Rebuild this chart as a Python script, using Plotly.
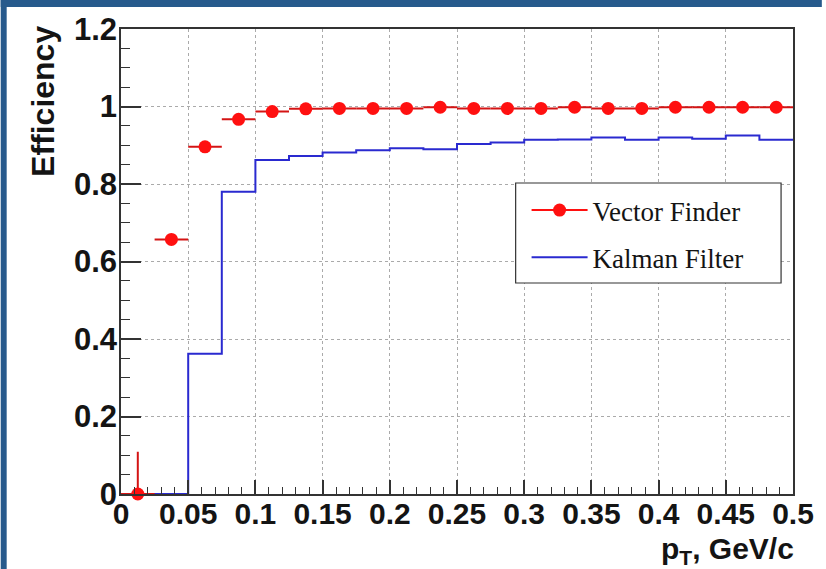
import numpy as np
import plotly.graph_objects as go

# pT binning (GeV/c): 20 bins of width 0.025 from 0 to 0.5
bin_edges = [round(0.025 * i, 4) for i in range(21)]
bin_centers = [round((a + b) / 2, 5) for a, b in zip(bin_edges[:-1], bin_edges[1:])]
bin_half_width = [0.0125] * 20

# Vector Finder efficiency per bin (points with errors)
vf_eff = [0.0, 0.657, 0.896, 0.967, 0.987, 0.994, 0.995, 0.995, 0.995, 0.998,
          0.995, 0.995, 0.995, 0.998, 0.995, 0.995, 0.998, 0.998, 0.998, 0.998]
vf_err_up = [0.109] + [0.0] * 19
vf_err_down = [0.0] * 20

# Kalman Filter efficiency per bin (histogram)
kf_eff = [0.0, 0.0, 0.362, 0.780, 0.862, 0.872, 0.881, 0.887, 0.892, 0.890,
          0.903, 0.907, 0.914, 0.915, 0.920, 0.914, 0.920, 0.917, 0.925, 0.914]

x_tickvals = [0, 0.05, 0.1, 0.15, 0.2, 0.25, 0.3, 0.35, 0.4, 0.45, 0.5]
x_ticktext = ["0", "0.05", "0.1", "0.15", "0.2", "0.25", "0.3", "0.35", "0.4", "0.45", "0.5"]
y_tickvals = [0, 0.2, 0.4, 0.6, 0.8, 1.0, 1.2]
y_ticktext = ["0", "0.2", "0.4", "0.6", "0.8", "1", "1.2"]

W, H = 826, 569
L, R, T, B = 121, 29, 29, 75
pw, ph = W - L - R, H - T - B

def px_x(px):
    return (px - L) / pw

def px_y(py):
    return (H - B - py) / ph

SANS = "Liberation Sans, Arial, Helvetica, sans-serif"
SERIF = "Liberation Serif, Times New Roman, serif"
FRAME_BLUE = "#275a8c"
RED = "#ff1010"
BLUE = "#2a2ad0"
INK = "#141414"

fig = go.Figure()

# Kalman Filter as a step histogram
fig.add_trace(go.Scatter(
    x=bin_edges,
    y=kf_eff + [kf_eff[-1]],
    mode="lines",
    line=dict(color=BLUE, width=2, shape="hv"),
    name="Kalman Filter",
    legendgroup="kf",
    legendrank=2,
))

# Vector Finder as markers with bin-width x errors
fig.add_trace(go.Scatter(
    x=bin_centers,
    y=vf_eff,
    mode="markers",
    marker=dict(color=RED, size=13, symbol="circle"),
    error_x=dict(type="data", array=bin_half_width, color="#d41414", thickness=2, width=0),
    error_y=dict(type="data", array=vf_err_up, arrayminus=vf_err_down,
                 color="#d41414", thickness=2, width=0),
    cliponaxis=False,
    name="Vector Finder",
    legendgroup="vf",
    legendrank=1,
    showlegend=False,
))
# legend sample for Vector Finder (line + marker)
fig.add_trace(go.Scatter(
    x=[None], y=[None],
    mode="lines+markers",
    line=dict(color=RED, width=2),
    marker=dict(color=RED, size=13),
    name="Vector Finder",
    legendgroup="vf",
    legendrank=1,
))

shapes = [
    # legend box
    dict(type="rect", xref="paper", yref="paper",
         x0=px_x(518), x1=px_x(785), y0=px_y(283), y1=px_y(183),
         line=dict(color="#333333", width=1.2), fillcolor="white", layer="above"),
    # page frame bands
    dict(type="rect", xref="paper", yref="paper",
         x0=px_x(0), x1=px_x(6), y0=px_y(H), y1=px_y(0),
         line=dict(width=0), fillcolor=FRAME_BLUE, layer="above"),
    dict(type="rect", xref="paper", yref="paper",
         x0=px_x(0), x1=px_x(W), y0=px_y(7), y1=px_y(0),
         line=dict(width=0), fillcolor=FRAME_BLUE, layer="above"),
]

annotations = [
    dict(text="Efficiency", xref="paper", yref="paper",
         x=px_x(42), y=px_y(25), xanchor="center", yanchor="top",
         textangle=-90, showarrow=False, borderpad=0,
         font=dict(family=SANS, size=32, color=INK, weight="bold")),
    dict(text="p<sub>T</sub>, GeV/c", xref="paper", yref="paper",
         x=px_x(799), y=px_y(570), xanchor="right", yanchor="bottom",
         showarrow=False, borderpad=0,
         font=dict(family=SANS, size=30, color=INK, weight="bold")),
]

axis_common = dict(
    showline=True, linecolor="#333333", linewidth=1.5, mirror=True,
    ticks="inside", tickcolor="#333333", tickwidth=1.5,
    showgrid=True, gridcolor="#aaaaaa", griddash="dot", gridwidth=1,
    zeroline=False,
)

fig.update_xaxes(
    range=[0, 0.5], tickvals=x_tickvals, ticktext=x_ticktext,
    ticklen=14,
    minor=dict(dtick=0.01, tick0=0, ticks="inside", ticklen=7,
               tickcolor="#333333", tickwidth=1.2, showgrid=False),
    ticklabelstandoff=-8,
    tickfont=dict(family=SANS, size=30, color=INK, weight="bold"),
    **axis_common,
)
fig.update_yaxes(
    range=[0, 1.2], tickvals=y_tickvals, ticktext=y_ticktext,
    ticklen=20,
    minor=dict(dtick=0.05, tick0=0, ticks="inside", ticklen=9,
               tickcolor="#333333", tickwidth=1.2, showgrid=False),
    ticklabelstandoff=-4,
    tickfont=dict(family=SANS, size=31, color=INK, weight="bold"),
    **axis_common,
)

fig.update_layout(
    width=W, height=H,
    margin=dict(l=L, r=R, t=T, b=B, pad=0),
    paper_bgcolor="white", plot_bgcolor="white",
    showlegend=True,
    legend=dict(
        x=px_x(529), y=px_y(186), xanchor="left", yanchor="top",
        bgcolor="rgba(0,0,0,0)", borderwidth=0,
        font=dict(family=SERIF, size=27, color=INK),
        itemwidth=56, tracegroupgap=9, traceorder="grouped",
    ),
    shapes=shapes,
    annotations=annotations,
)

fig.write_html("out.html")
